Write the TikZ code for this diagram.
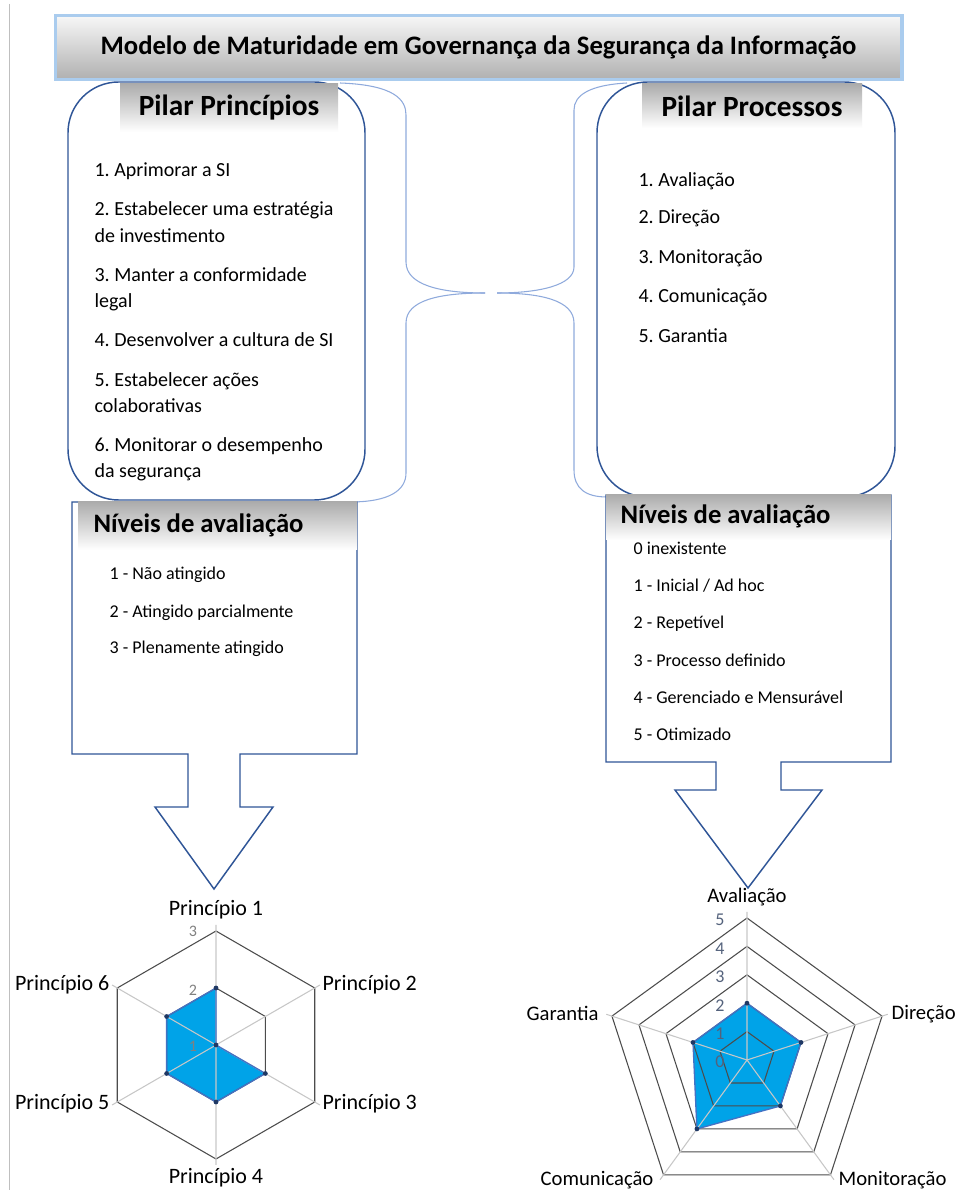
\documentclass[tikz,border=0pt]{standalone}
\usepackage{fontspec}
\setmainfont{Carlito}
\frenchspacing
\usetikzlibrary{arrows,shapes}
\definecolor{dblue}{RGB}{47,85,151}
\definecolor{lblue}{RGB}{143,170,220}
\definecolor{glow}{RGB}{170,204,238}
\definecolor{chartfill}{RGB}{0,163,232}
\definecolor{chartline}{RGB}{68,114,196}
\definecolor{navy}{RGB}{31,56,100}
\definecolor{slate}{RGB}{84,98,124}

\begin{document}
\begin{tikzpicture}[x=0.75pt,y=0.75pt,inner sep=1pt,
  pillar/.style={draw=dblue,line width=1.1pt,fill=white,rounded corners=38pt},
  hdbox/.style={top color=gray!65,bottom color=white,inner sep=0pt,font=\bfseries\fontsize{22}{26}\selectfont},
  nivhd/.style={anchor=west,font=\bfseries\fontsize{20}{23}\selectfont},
  item/.style={anchor=base west,font=\fontsize{15}{18}\selectfont},
  lvl/.style={anchor=base west,font=\fontsize{13.5}{16}\selectfont},
  callout/.style={draw=dblue,line width=1.1pt,fill=white},
  brace/.style={draw=lblue,line width=0.8pt},
  ring/.style={draw=black!70,line width=0.8pt},
  spoke/.style={draw=black!22,line width=0.8pt},
  datafill/.style={fill=chartfill},
  dataline/.style={draw=chartline,line width=1pt},
  dotmk/.style={fill=navy},
  axlab/.style={font=\fontsize{16.5}{19}\selectfont},
  pentlab/.style={font=\fontsize{15.5}{18}\selectfont},
  axnum/.style={font=\fontsize{12}{14}\selectfont,text=black!50},
  pentnum/.style={font=\fontsize{13.5}{16}\selectfont,text=slate}]
\useasboundingbox (0,0) rectangle (956,1190);
\draw[black!25] (9,1186) -- (9,0);
%
\node[draw=glow,line width=2.5pt,top color=gray!6,bottom color=gray!62,minimum width=635pt,minimum height=48pt,
  font=\bfseries\fontsize{20}{24}\selectfont] (title) at (478.5,1142.5) {Modelo de Maturidade em Governança da Segurança da Informação};
%
\coordinate (tipL) at (485,897);
\coordinate (tipR) at (497,897);
\draw[brace] (340,1107) .. controls (395,1105) and (406,1090) .. (406,1075) -- (406,928) .. controls (406,905) and (440,897) .. (tipL);
\draw[brace] (tipL) .. controls (440,897) and (406,890) .. (406,867) -- (406,717) .. controls (406,700) and (390,688) .. (350,688);
\draw[brace] (627,1107) .. controls (590,1105) and (574,1095) .. (574,1080) -- (574,923) .. controls (574,905) and (540,897) .. (tipR);
\draw[brace] (tipR) .. controls (540,897) and (574,890) .. (574,867) -- (574,720) .. controls (574,702) and (585,693) .. (607,693);
%
\draw[pillar] (68,690) rectangle (365,1108);
\node[hdbox,minimum width=163.5pt,minimum height=36pt] (hdPrin) at (229,1082) {Pilar Princípios};
\node[item] (pr1) at (93,1013) {1. Aprimorar a SI};
\node[item] (pr2) at (93,974) {2. Estabelecer uma estratégia};
\node[item] (pr2b) at (93,947) {de investimento};
\node[item] (pr3) at (93,908) {3. Manter a conformidade};
\node[item] (pr3b) at (93,882) {legal};
\node[item] (pr4) at (93,843) {4. Desenvolver a cultura de SI};
\node[item] (pr5) at (93,803) {5. Estabelecer ações};
\node[item] (pr5b) at (93,777) {colaborativas};
\node[item] (pr6) at (93,738) {6. Monitorar o desempenho};
\node[item] (pr6b) at (93,712) {da segurança};
%
\draw[pillar] (597,693) rectangle (895,1108);
\node[hdbox,minimum width=165pt,minimum height=33pt] (hdProc) at (752,1084) {Pilar Processos};
\node[item] (pc1) at (637,1003) {1. Avaliação};
\node[item] (pc2) at (637,966) {2. Direção};
\node[item] (pc3) at (637,926) {3. Monitoração};
\node[item] (pc4) at (637,887) {4. Comunicação};
\node[item] (pc5) at (637,847) {5. Garantia};
%
\draw[callout] (72,688) -- (357,688) -- (357,436) -- (240,436) -- (240,383) -- (273,383) -- (214,301)
  -- (155,383) -- (188,383) -- (188,436) -- (72,436) -- cycle;
\shade[top color=gray!65,bottom color=white] (78,688) rectangle (357,640);
\node[nivhd] (nivPrin) at (92,665) {Níveis de avaliação};
\node[lvl] (lp1) at (108,610) {1 - Não atingido};
\node[lvl] (lp2) at (108,572) {2 - Atingido parcialmente};
\node[lvl] (lp3) at (108,536) {3 - Plenamente atingido};
%
\draw[callout] (606,695) -- (891,695) -- (891,428) -- (781,428) -- (781,400) -- (822,400) -- (748,302)
  -- (675,400) -- (716,400) -- (716,428) -- (606,428) -- cycle;
\shade[top color=gray!65,bottom color=white] (606,695) rectangle (891,650);
\node[nivhd] (nivProc) at (619,674) {Níveis de avaliação};
\node[lvl] (lc0) at (632,635) {0 inexistente};
\node[lvl] (lc1) at (632,598) {1 - Inicial / Ad hoc};
\node[lvl] (lc2) at (632,561) {2 - Repetível};
\node[lvl] (lc3) at (632,523) {3 - Processo definido};
\node[lvl] (lc4) at (632,486) {4 - Gerenciado e Mensurável};
\node[lvl] (lc5) at (632,449) {5 - Otimizado};
%
% radar dos principios
\begin{scope}[shift={(216,145)}]
\fill[datafill] (90:57) -- (0,0) -- (-30:57) -- (-90:57) -- (-150:57) -- (150:57) -- cycle;
\draw[ring] (90:57) -- (30:57) -- (-30:57) -- (-90:57) -- (-150:57) -- (150:57) -- cycle;
\draw[ring] (90:114) -- (30:114) -- (-30:114) -- (-90:114) -- (-150:114) -- (150:114) -- cycle;
\draw[spoke] (0,0) -- (90:120) (0,0) -- (30:120) (0,0) -- (-30:120) (0,0) -- (-90:120) (0,0) -- (-150:120) (0,0) -- (150:120);
\draw[dataline] (90:57) -- (0,0) -- (-30:57) -- (-90:57) -- (-150:57) -- (150:57) -- cycle;
\fill[dotmk] (90:57) circle (1.8pt) (0,0) circle (1.8pt) (-30:57) circle (1.8pt) (-90:57) circle (1.8pt)
  (-150:57) circle (1.8pt) (150:57) circle (1.8pt);
\node[axnum] (hn3) at (-23,114) {3};
\node[axnum] (hn2) at (-23,55) {2};
\node[axnum] (hn1) at (-23,-1) {1};
\node[axlab] (hp1) at (0,135) {Princípio 1};
\node[axlab,anchor=west] (hp2) at (105,60) {Princípio 2};
\node[axlab,anchor=west] (hp3) at (105,-59) {Princípio 3};
\node[axlab] (hp4) at (0,-133) {Princípio 4};
\node[axlab,anchor=east] (hp5) at (-105,-59) {Princípio 5};
\node[axlab,anchor=east] (hp6) at (-105,60) {Princípio 6};
\end{scope}
%
% radar dos processos
\begin{scope}[shift={(747,130)}]
\fill[datafill] (90:56.8) -- (18:56.8) -- (-54:56.8) -- (-126:85.2) -- (162:56.8) -- cycle;
\draw[ring] (90:28.4) -- (18:28.4) -- (-54:28.4) -- (-126:28.4) -- (162:28.4) -- cycle;
\draw[ring] (90:56.8) -- (18:56.8) -- (-54:56.8) -- (-126:56.8) -- (162:56.8) -- cycle;
\draw[ring] (90:85.2) -- (18:85.2) -- (-54:85.2) -- (-126:85.2) -- (162:85.2) -- cycle;
\draw[ring] (90:113.6) -- (18:113.6) -- (-54:113.6) -- (-126:113.6) -- (162:113.6) -- cycle;
\draw[ring] (90:142) -- (18:142) -- (-54:142) -- (-126:142) -- (162:142) -- cycle;
\draw[spoke] (0,0) -- (90:148) (0,0) -- (18:148) (0,0) -- (-54:148) (0,0) -- (-126:148) (0,0) -- (162:148);
\draw[dataline] (90:56.8) -- (18:56.8) -- (-54:56.8) -- (-126:85.2) -- (162:56.8) -- cycle;
\fill[dotmk] (90:56.8) circle (1.8pt) (18:56.8) circle (1.8pt) (-54:56.8) circle (1.8pt)
  (-126:85.2) circle (1.8pt) (162:56.8) circle (1.8pt);
\node[pentnum] (pn0) at (-27,-2) {0};
\node[pentnum] (pn1) at (-27,26.4) {1};
\node[pentnum] (pn2) at (-27,54.8) {2};
\node[pentnum] (pn3) at (-27,83.2) {3};
\node[pentnum] (pn4) at (-27,111.6) {4};
\node[pentnum] (pn5) at (-27,140) {5};
\node[pentlab] (pa1) at (0,163) {Avaliação};
\node[pentlab,anchor=west] (pa2) at (143,46) {Direção};
\node[pentlab,anchor=west] (pa3) at (90,-120) {Monitoração};
\node[pentlab,anchor=east] (pa4) at (-92,-120) {Comunicação};
\node[pentlab,anchor=east] (pa5) at (-147,47) {Garantia};
\end{scope}
\end{tikzpicture}
\end{document}
